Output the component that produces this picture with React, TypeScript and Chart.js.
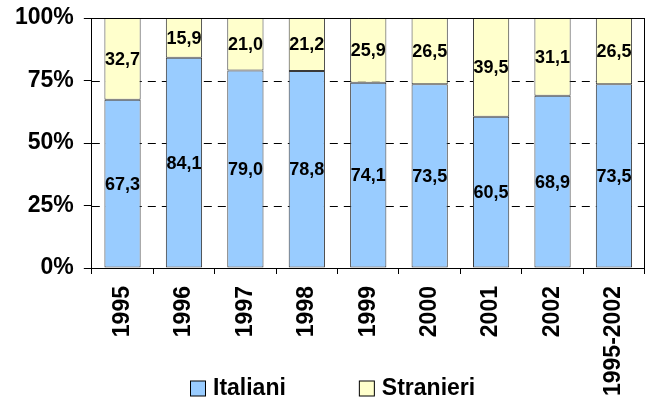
import React, { useEffect, useRef } from "react";
import { Chart, registerables } from "chart.js";

Chart.register(...registerables);

const categories = ["1995", "1996", "1997", "1998", "1999", "2000", "2001", "2002", "1995-2002"];
const italiani = [67.3, 84.1, 79.0, 78.8, 74.1, 73.5, 60.5, 68.9, 73.5];
const stranieri = [32.7, 15.9, 21.0, 21.2, 25.9, 26.5, 39.5, 31.1, 26.5];
const yTicks = [0, 25, 50, 75, 100];
const dashedLevels = [25, 50, 75];
const seriesNames = ["Italiani", "Stranieri"];

const FONT = "'Liberation Sans', Arial, Helvetica, sans-serif";

const fmt = (v: number) => v.toFixed(1).replace(".", ",");

const gridPlugin = {
  id: "dashGrid",
  beforeDatasetsDraw(chart: any) {
    const ctx = chart.ctx;
    const a = chart.chartArea;
    const y = chart.scales.y;
    ctx.save();
    ctx.strokeStyle = "#000";
    ctx.lineWidth = 1;
    ctx.setLineDash([8, 6]);
    dashedLevels.forEach((v) => {
      const py = Math.round(y.getPixelForValue(v)) + 0.5;
      ctx.beginPath();
      ctx.moveTo(a.left, py);
      ctx.lineTo(a.right, py);
      ctx.stroke();
    });
    ctx.restore();
  },
};

const labelsPlugin = {
  id: "segLabels",
  afterDatasetsDraw(chart: any) {
    const ctx = chart.ctx;
    ctx.save();
    ctx.font = `bold 18px ${FONT}`;
    ctx.fillStyle = "#000";
    ctx.textAlign = "center";
    ctx.textBaseline = "middle";
    chart.data.datasets.forEach((ds: any, di: number) => {
      const meta = chart.getDatasetMeta(di);
      meta.data.forEach((bar: any, i: number) => {
        const top = Math.min(bar.y, bar.base);
        const bottom = Math.max(bar.y, bar.base);
        ctx.fillText(fmt(ds.data[i]), bar.x, (top + bottom) / 2 + 1);
      });
    });
    const a = chart.chartArea;
    ctx.strokeStyle = "#000";
    ctx.lineWidth = 1;
    ctx.beginPath();
    ctx.moveTo(a.left, Math.round(a.top) + 0.5);
    ctx.lineTo(a.right, Math.round(a.top) + 0.5);
    ctx.moveTo(Math.round(a.right) - 0.5, a.top);
    ctx.lineTo(Math.round(a.right) - 0.5, a.bottom);
    ctx.stroke();
    ctx.restore();
  },
};

const legendPlugin = {
  id: "customLegend",
  afterDraw(chart: any) {
    const ctx = chart.ctx;
    ctx.save();
    ctx.font = `bold 23px ${FONT}`;
    const box = 15;
    const gap = 8;
    const itemGap = 73;
    const widths = seriesNames.map((n) => box + gap + ctx.measureText(n).width);
    const total = widths.reduce((s, w) => s + w, 0) + itemGap * (widths.length - 1);
    let x = Math.round(chart.width / 2 - total / 2 + 6);
    const yc = chart.height - 12;
    chart.data.datasets.forEach((ds: any, i: number) => {
      ctx.fillStyle = ds.backgroundColor;
      ctx.fillRect(x + 0.5, yc - box / 2 + 0.5, box, box);
      ctx.strokeStyle = "#000";
      ctx.lineWidth = 1;
      ctx.strokeRect(x + 0.5, yc - box / 2 + 0.5, box, box);
      ctx.fillStyle = "#000";
      ctx.textAlign = "left";
      ctx.textBaseline = "middle";
      ctx.fillText(seriesNames[i], x + box + gap, yc + 1);
      x += widths[i] + itemGap;
    });
    ctx.restore();
  },
};

export default function App() {
  const ref = useRef<HTMLCanvasElement>(null);
  useEffect(() => {
    if (!ref.current) return;
    const chart = new Chart(ref.current, {
      type: "bar",
      data: {
        labels: categories,
        datasets: [
          {
            label: seriesNames[0],
            data: italiani,
            backgroundColor: "#99CCFF",
            borderColor: "#3a3a3a",
            borderWidth: 1,
            borderSkipped: false,
            barPercentage: 0.59,
            categoryPercentage: 1,
          },
          {
            label: seriesNames[1],
            data: stranieri,
            backgroundColor: "#FFFFCC",
            borderColor: "#3a3a3a",
            borderWidth: 1,
            borderSkipped: false,
            barPercentage: 0.59,
            categoryPercentage: 1,
          },
        ],
      },
      options: {
        responsive: false,
        animation: false,
        layout: { padding: { left: 5, right: 8, top: 18, bottom: -8 } },
        plugins: {
          legend: { display: false },
          tooltip: { enabled: false },
        },
        scales: {
          x: {
            stacked: true,
            grid: {
              offset: true,
              drawOnChartArea: false,
              drawTicks: true,
              tickLength: 6,
              color: "#000",
              tickColor: "#000",
            },
            border: { color: "#000", width: 1 },
            ticks: {
              color: "#000",
              font: { family: FONT, size: 23, weight: "bold" },
              minRotation: 90,
              maxRotation: 90,
              padding: 12,
              autoSkip: false,
            },
          },
          y: {
            stacked: true,
            min: 0,
            max: 100,
            afterBuildTicks: (scale: any) => {
              scale.ticks = yTicks.map((v) => ({ value: v }));
            },
            grid: {
              drawOnChartArea: false,
              color: "#000",
              tickColor: "#000",
              tickLength: 8,
              lineWidth: 1,
            },
            border: { color: "#000", width: 1 },
            ticks: {
              color: "#000",
              font: { family: FONT, size: 23, weight: "bold", lineHeight: 0.5 },
              padding: 10,
              callback: (v: any) => `${v}%`,
            },
          },
        },
      },
      plugins: [gridPlugin, labelsPlugin, legendPlugin],
    });
    return () => chart.destroy();
  }, []);
  return (
    <div style={{ position: "fixed", left: 0, top: 0, width: 654, height: 400, background: "#fff" }}>
      <canvas ref={ref} width={654} height={400} />
    </div>
  );
}
